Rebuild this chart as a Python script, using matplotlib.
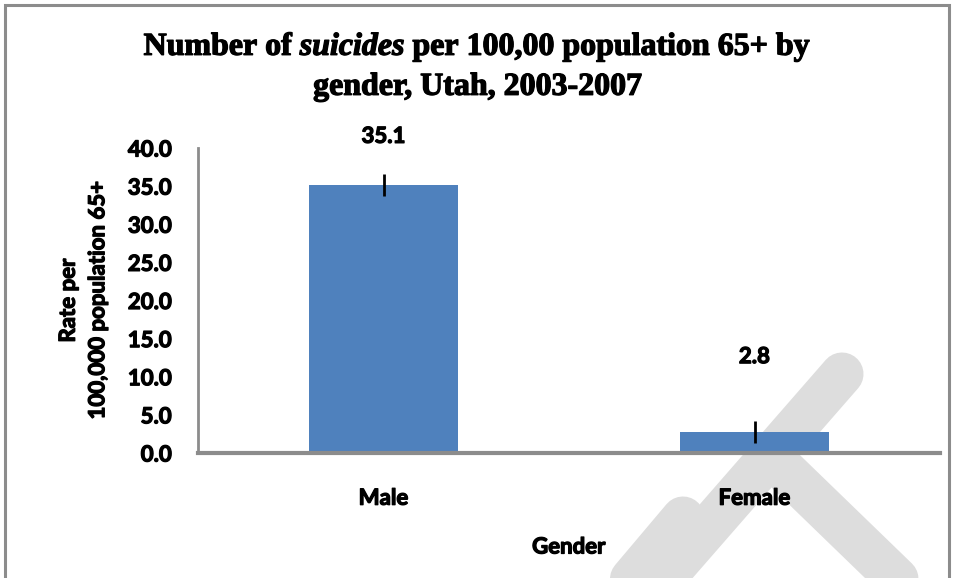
import matplotlib
matplotlib.use("Agg")
import matplotlib.pyplot as plt
import matplotlib.patheffects as pe
from matplotlib.lines import Line2D
from matplotlib.patches import Rectangle

# Suicide rate per 100,000 population aged 65+, Utah 2003-2007
genders = ["Male", "Female"]
rates = [35.1, 2.8]
errors = [1.45, 1.45]
label_offsets = [49, 75]  # pixels above the bar top

plt.rcParams["mathtext.fontset"] = "custom"
plt.rcParams["mathtext.rm"] = "Liberation Serif:bold"
plt.rcParams["mathtext.it"] = "Liberation Serif:italic:bold"

W, H = 956, 578
fig = plt.figure(figsize=(W / 100, H / 100), dpi=100)

# heavier strokes on the text
heavy = [pe.withStroke(linewidth=0.9, foreground="black")]
sans = "Lato"
tfont = dict(fontsize=16, fontweight="bold", family=sans)

# outer frame
fig.add_artist(Rectangle((5 / W, -0.05), 944 / W, 1.05 - 5 / H,
                         transform=fig.transFigure, fill=False,
                         edgecolor="#8c8c8c", linewidth=2.2, zorder=-3))

# faint logo bands in the background
band = dict(color="#dddddd", linewidth=31, solid_capstyle="round", zorder=-2)
for (x0, y0), (x1, y1) in [((842, 374), (610, 640)),
                           ((683, 518), (580, 640)),
                           ((772, 458), (960, 640))]:
    fig.add_artist(Line2D([x0 / W, x1 / W], [1 - y0 / H, 1 - y1 / H],
                          transform=fig.transFigure, **band))

ax = fig.add_axes([198 / W, 1 - 453 / H, 742 / W, 305 / H])
ax.patch.set_alpha(0)

x = range(len(genders))
ax.bar(x, rates, width=0.4, color="#4f81bd", zorder=2)
ax.errorbar(x, rates, yerr=errors, fmt="none", ecolor="black",
            elinewidth=2, capsize=0, zorder=3)

for xi, v, off in zip(x, rates, label_offsets):
    ax.annotate(f"{v:.1f}", (xi, v), xytext=(0, off * 0.72),
                textcoords="offset points", ha="center", va="center",
                path_effects=heavy, **tfont)

ax.set_xlim(-0.5, 1.5)
ax.set_ylim(0, 40)
ax.set_yticks(range(0, 41, 5))
ax.set_yticklabels([f"{t:.1f}" for t in range(0, 41, 5)], **tfont)
ax.set_xticks(list(x))
ax.set_xticklabels(genders, **tfont)
for lbl in ax.get_xticklabels() + ax.get_yticklabels():
    lbl.set_path_effects(heavy)
ax.tick_params(axis="y", length=0, pad=19)
ax.tick_params(axis="x", length=0, pad=25)

for s in ("top", "right"):
    ax.spines[s].set_visible(False)
ax.spines["left"].set_color("#8c8c8c")
ax.spines["left"].set_linewidth(2)
ax.spines["bottom"].set_color("#8c8c8c")
ax.spines["bottom"].set_linewidth(3)

ax.set_xlabel("Gender", labelpad=20, path_effects=heavy, **tfont)
ax.set_ylabel("Rate per\n100,000 population 65+", labelpad=14,
              linespacing=1.5, path_effects=heavy, **tfont)

fig.suptitle("Number of $\\mathit{suicides}$ per 100,00 population 65+ by\n"
             "gender, Utah, 2003-2007", y=1 - 31 / H, va="top",
             fontsize=23, fontweight="bold", family="Liberation Serif",
             linespacing=1.4, path_effects=heavy)

fig.savefig("out.png", dpi=100)
